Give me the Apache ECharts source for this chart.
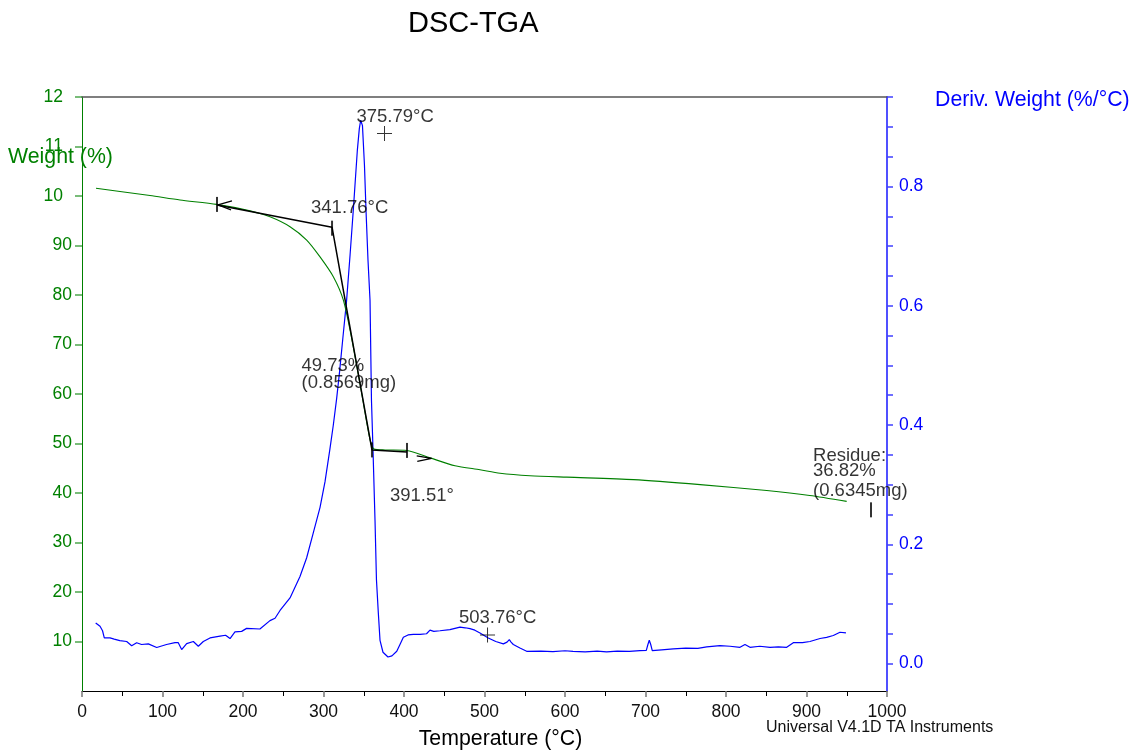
<!DOCTYPE html>
<html>
<head>
<meta charset="utf-8">
<script src="https://cdn.jsdelivr.net/npm/echarts@6/dist/echarts.min.js"></script>
<style>
  html, body { margin: 0; padding: 0; background: #ffffff; }
  #chart { width: 1135px; height: 755px; }
</style>
</head>
<body>
<div id="chart"></div>
<script>
// TGA weight trace: [temperature °C, weight %]
const weightCurve = [
  [17.4, 101.55], [47.2, 100.9], [84.5, 100.1], [121.7, 99.2], [167.3, 98.3],
  [208.7, 97.0], [233.5, 95.8], [258.4, 93.8], [279.1, 91.1], [295.7, 87.7],
  [312.2, 83.7], [324.6, 79.0], [335.4, 70.9], [347.8, 59.8], [357.8, 50.8],
  [362.7, 48.9], [376.4, 48.7], [403.4, 48.6], [432.3, 47.1], [463.4, 45.5],
  [494.4, 44.7], [519.3, 44.0], [556.5, 43.5], [602.1, 43.2], [685.1, 42.7],
  [768.0, 41.7], [850.6, 40.5], [904.0, 39.5], [949.9, 38.3]
];

// Derivative weight trace: [temperature °C, %/°C]
const derivCurve = [
  [17.0, 0.068], [22.4, 0.0625], [25.5, 0.055], [27.7, 0.043], [34.8, 0.043],
  [40.0, 0.041], [47.0, 0.0385], [55.5, 0.037], [61.7, 0.030], [67.9, 0.035],
  [74.0, 0.032], [82.4, 0.033], [92.8, 0.027], [105.0, 0.032], [115.5, 0.035],
  [119.6, 0.035], [123.8, 0.0235], [130.0, 0.0335], [138.3, 0.037], [144.5, 0.029],
  [150.7, 0.037], [159.0, 0.043], [171.4, 0.046], [178.4, 0.0475], [183.9, 0.042],
  [190.0, 0.053], [198.3, 0.054], [204.5, 0.059], [221.0, 0.058], [233.5, 0.072],
  [239.8, 0.076], [246.0, 0.089], [258.4, 0.110], [270.8, 0.146], [279.0, 0.177],
  [287.3, 0.219], [295.7, 0.262], [301.9, 0.305], [308.0, 0.360], [312.2, 0.400],
  [316.4, 0.445], [320.0, 0.490], [324.0, 0.545], [328.7, 0.609], [333.0, 0.685],
  [337.0, 0.760], [339.0, 0.800], [342.0, 0.860], [344.5, 0.897], [346.2, 0.911],
  [348.4, 0.902], [350.9, 0.835], [352.8, 0.760], [355.3, 0.676], [357.8, 0.609],
  [359.6, 0.441], [361.5, 0.358], [364.0, 0.240], [365.8, 0.140], [368.1, 0.085],
  [370.2, 0.039], [373.9, 0.019], [380.1, 0.011], [385.0, 0.013], [391.0, 0.0206],
  [395.0, 0.032], [399.2, 0.044], [405.0, 0.048], [411.6, 0.049], [420.0, 0.049],
  [428.0, 0.050], [432.3, 0.056], [437.0, 0.054], [444.7, 0.055], [457.0, 0.057],
  [469.6, 0.061], [476.0, 0.060], [482.0, 0.0586], [488.0, 0.056], [494.4, 0.0514],
  [504.7, 0.043], [514.0, 0.037], [523.4, 0.033], [528.0, 0.036], [530.8, 0.040],
  [533.0, 0.036], [535.8, 0.032], [544.0, 0.026], [552.4, 0.0206], [570.0, 0.021],
  [585.0, 0.020], [600.0, 0.0215], [610.0, 0.0206], [625.0, 0.0195], [640.0, 0.021],
  [651.7, 0.0195], [665.0, 0.021], [680.0, 0.0205], [693.0, 0.0218], [701.0, 0.022],
  [703.0, 0.032], [704.7, 0.039], [706.5, 0.032], [708.4, 0.0218], [720.0, 0.023],
  [734.5, 0.0246], [750.0, 0.026], [765.0, 0.0255], [776.0, 0.028], [792.5, 0.030],
  [805.0, 0.029], [817.4, 0.0273], [823.6, 0.032], [829.8, 0.0273], [842.0, 0.029],
  [854.7, 0.0273], [865.0, 0.028], [875.4, 0.0273], [883.6, 0.035], [895.0, 0.035],
  [904.3, 0.037], [916.8, 0.042], [925.0, 0.044], [933.3, 0.047], [941.6, 0.0525],
  [949.0, 0.0514]
];

// Axis ticks and their printed labels
const tempTicks = [0, 100, 200, 300, 400, 500, 600, 700, 800, 900, 1000];
const weightTicks = [10, 20, 30, 40, 50, 60, 70, 80, 90, 100, 110, 120];
const weightTickText = ['10', '20', '30', '40', '50', '60', '70', '80', '90', '10', '11', '12'];
const derivTicks = [0, 0.05, 0.1, 0.15, 0.2, 0.25, 0.3, 0.35, 0.4, 0.45, 0.5, 0.55, 0.6, 0.65, 0.7, 0.75, 0.8, 0.85, 0.9, 0.95];
const derivLabels = [0, 0.2, 0.4, 0.6, 0.8];

// Onset construction on the weight step: [temperature °C, weight %]
const tangentLine = [[167.7, 98.2], [310.6, 93.7], [360.2, 48.7], [403.7, 48.3]];
const leftArrow = [[186.3, 99.0], [168.9, 98.2], [185.1, 97.2]];
const rightArrow = [[415.8, 47.5], [434.4, 47.0], [416.5, 46.4]];
const limitBars = [[167.7, 98.3], [310.6, 93.5], [360.2, 48.7], [403.7, 48.6], [980.1, 36.6]];

// Peak markers on the derivative trace: [temperature °C, %/°C]
const peakMarks = [[375.79, 0.889], [503.76, 0.048]];

// Result annotations: [temperature °C, weight %, text]
const notes = [
  [341.0, 115.9, '375.79°C'],
  [284.5, 97.5, '341.76°C'],
  [272.7, 65.6, '49.73%'],
  [272.7, 62.3, '(0.8569mg)'],
  [382.6, 39.35, '391.51°'],
  [908.1, 47.4, 'Residue:'],
  [908.1, 44.4, '36.82%'],
  [908.1, 40.5, '(0.6345mg)'],
  [468.3, 14.7, '503.76°C']
];

const FONT = 'Liberation Sans, Arial, Helvetica, sans-serif';
const GREEN = '#008000';
const BLUE = '#0000ff';

const chart = echarts.init(document.getElementById('chart'), null, { renderer: 'canvas' });

chart.setOption({
  animation: false,
  backgroundColor: '#ffffff',
  textStyle: { fontFamily: FONT },
  title: {
    text: 'DSC-TGA',
    left: 403,
    top: 4,
    textStyle: { fontFamily: FONT, fontSize: 29, fontWeight: 'normal', color: '#000000' }
  },
  grid: { left: 82, right: 248, top: 97, bottom: 63.5, containLabel: false },
  xAxis: [
    {
      type: 'value',
      min: 0,
      max: 1000,
      interval: 100,
      position: 'bottom',
      name: 'Temperature (°C)',
      nameLocation: 'middle',
      nameGap: 38,
      nameTextStyle: { fontFamily: FONT, fontSize: 21.3, color: '#000000', padding: [0, 0, 0, 32] },
      axisLine: { onZero: false, lineStyle: { color: '#000000', width: 1 } },
      axisTick: { show: true, length: 6, lineStyle: { color: '#777777', width: 1.5 } },
      minorTick: { show: true, splitNumber: 2, length: 5, lineStyle: { color: '#000000', width: 1 } },
      axisLabel: {
        margin: 12,
        fontSize: 17.5,
        color: '#111111',
        fontFamily: FONT,
        formatter: v => String(tempTicks[tempTicks.indexOf(v)])
      },
      splitLine: { show: false }
    },
    {
      type: 'value',
      min: 0,
      max: 1000,
      position: 'top',
      axisLine: { show: true, onZero: false, lineStyle: { color: '#555555', width: 1.5 } },
      axisTick: { show: false },
      axisLabel: { show: false },
      splitLine: { show: false }
    }
  ],
  yAxis: [
    {
      type: 'value',
      min: 0,
      max: 120,
      position: 'left',
      axisLine: { show: true, onZero: false, lineStyle: { color: GREEN, width: 1 } },
      axisTick: { show: true, length: 7, customValues: weightTicks, lineStyle: { color: GREEN, width: 1.5, opacity: 0.7 } },
      axisLabel: {
        customValues: weightTicks,
        margin: 10,
        fontSize: 17.5,
        color: GREEN,
        fontFamily: FONT,
        formatter: v => {
          const t = weightTickText[weightTicks.indexOf(v)];
          return v >= 100 ? '{c|' + t + '}' : t;
        },
        rich: { c: { padding: [0, 9, 0, 0], fontSize: 17.5, color: GREEN, fontFamily: FONT } }
      },
      splitLine: { show: false }
    },
    {
      type: 'value',
      min: -0.046,
      max: 0.95,
      position: 'right',
      axisLine: { show: true, onZero: false, lineStyle: { color: '#5050ff', width: 2 } },
      axisTick: { show: true, length: 6, customValues: derivTicks, lineStyle: { color: '#4040ff', width: 1.5 } },
      axisLabel: {
        customValues: derivLabels,
        margin: 12,
        fontSize: 17.5,
        color: BLUE,
        fontFamily: FONT,
        formatter: v => v.toFixed(1)
      },
      splitLine: { show: false }
    }
  ],
  graphic: [
    {
      type: 'text', x: 8, y: 157,
      style: { text: 'Weight (%)', fill: GREEN, fontSize: 21.3, fontFamily: FONT, verticalAlign: 'middle', align: 'left' }
    },
    {
      type: 'text', x: 935, y: 100,
      style: { text: 'Deriv. Weight (%/°C)', fill: BLUE, fontSize: 21.3, fontFamily: FONT, verticalAlign: 'middle', align: 'left' }
    },
    {
      type: 'text', x: 766, y: 728,
      style: { text: 'Universal V4.1D TA Instruments', fill: '#111111', fontSize: 16, fontFamily: FONT, verticalAlign: 'middle', align: 'left' }
    }
  ],
  series: [
    {
      name: 'Weight',
      type: 'line',
      xAxisIndex: 0,
      yAxisIndex: 0,
      data: weightCurve,
      symbol: 'none',
      smooth: 0.25,
      lineStyle: { color: GREEN, width: 1.1 },
      z: 3
    },
    {
      name: 'Deriv. Weight',
      type: 'line',
      xAxisIndex: 0,
      yAxisIndex: 1,
      data: derivCurve,
      symbol: 'none',
      lineStyle: { color: BLUE, width: 1.2 },
      z: 2
    },
    {
      name: 'Onset tangents',
      type: 'line',
      yAxisIndex: 0,
      data: tangentLine,
      symbol: 'none',
      lineStyle: { color: '#000000', width: 1.5 },
      z: 5
    },
    {
      name: 'Left arrow',
      type: 'line',
      yAxisIndex: 0,
      data: leftArrow,
      symbol: 'none',
      lineStyle: { color: '#000000', width: 1.2 },
      z: 5
    },
    {
      name: 'Right arrow',
      type: 'line',
      yAxisIndex: 0,
      data: rightArrow,
      symbol: 'none',
      lineStyle: { color: '#000000', width: 1.2 },
      z: 5
    },
    {
      name: 'Limit bars',
      type: 'scatter',
      yAxisIndex: 0,
      data: limitBars,
      symbol: 'rect',
      symbolSize: [2, 15],
      itemStyle: { color: '#000000' },
      clip: false,
      z: 6
    },
    {
      name: 'Peak marks',
      type: 'scatter',
      yAxisIndex: 1,
      data: peakMarks,
      symbol: 'path://M7,0H8V7H15V8H8V15H7V8H0V7H7Z',
      symbolSize: 15,
      itemStyle: { color: '#000000' },
      clip: false,
      z: 6
    },
    {
      name: 'Notes',
      type: 'scatter',
      yAxisIndex: 0,
      data: notes.map(n => ({ value: [n[0], n[1]], name: n[2] })),
      symbolSize: 0,
      clip: false,
      silent: true,
      label: {
        show: true,
        position: 'right',
        distance: 0,
        formatter: '{b}',
        fontSize: 18.5,
        color: '#000000',
        fontFamily: FONT
      },
      z: 7
    }
  ]
});
</script>
</body>
</html>
